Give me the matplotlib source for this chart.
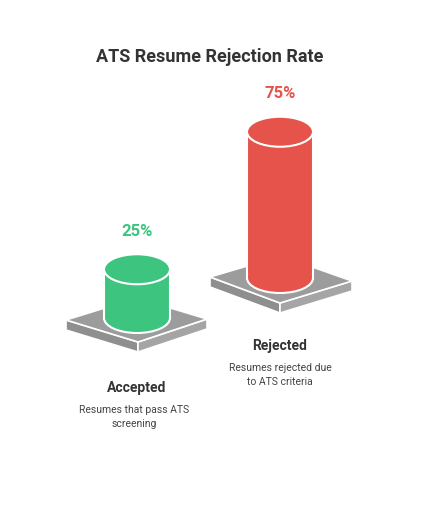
import matplotlib
matplotlib.use("Agg")
import matplotlib.pyplot as plt
from matplotlib.patches import Ellipse, Polygon, Rectangle

categories = ["Accepted", "Rejected"]
values = [25, 75]
pct_labels = ["25%", "75%"]
descriptions = ["Resumes that pass ATS\nscreening", "Resumes rejected due\nto ATS criteria"]
colors = ["#3dc47e", "#e5534b"]

fig = plt.figure(figsize=(4.39, 5.12), dpi=100)
ax = fig.add_axes([0, 0, 1, 1])
ax.set_xlim(0, 439); ax.set_ylim(512, 0); ax.axis("off")

cx = [137, 280]
base_y = [318, 278]
platforms = [dict(l=(66, 320), b=(137, 298), r=(207, 319), f=(138, 342)),
             dict(l=(210, 277), b=(281, 256), r=(352, 281), f=(280, 303))]
scale = 1.95
w, eh = 66, 30
th = 10

for i in range(2):
    p = platforms[i]
    ax.add_patch(Polygon([p["l"], p["f"], (p["f"][0], p["f"][1]+th), (p["l"][0], p["l"][1]+th)],
                         fc="#8f8f8f", ec="white", lw=1.2, zorder=1))
    ax.add_patch(Polygon([p["f"], p["r"], (p["r"][0], p["r"][1]+th), (p["f"][0], p["f"][1]+th)],
                         fc="#a5a5a5", ec="white", lw=1.2, zorder=1))
    ax.add_patch(Polygon([p["l"], p["b"], p["r"], p["f"]], fc="#9c9c9c", ec="white", lw=1.2, zorder=2))
    h = values[i] * scale
    top = base_y[i] - h
    ax.add_patch(Ellipse((cx[i], base_y[i]), w, eh, fc=colors[i], ec="white", lw=1.5, zorder=3))
    ax.add_patch(Rectangle((cx[i]-w/2, top), w, h, fc=colors[i], ec="none", zorder=4))
    ax.plot([cx[i]-w/2]*2, [top, base_y[i]], color="white", lw=1.5, zorder=5)
    ax.plot([cx[i]+w/2]*2, [top, base_y[i]], color="white", lw=1.5, zorder=5)
    ax.add_patch(Ellipse((cx[i], top), w, eh, fc=colors[i], ec="white", lw=1.5, zorder=6))
    ax.text(cx[i], top - 38, pct_labels[i], color=colors[i], fontsize=12, fontweight="bold",
            ha="center", va="center", family="Roboto")

ax.text(137, 388, categories[0], fontsize=10, fontweight="bold", color="#333333", ha="center", va="center", family="Roboto")
ax.text(134, 417, descriptions[0], fontsize=7.5, color="#444444", ha="center", va="center", family="Roboto", linespacing=1.4)
ax.text(280, 346, categories[1], fontsize=10, fontweight="bold", color="#333333", ha="center", va="center", family="Roboto")
ax.text(280, 375, descriptions[1], fontsize=7.5, color="#444444", ha="center", va="center", family="Roboto", linespacing=1.4)
ax.text(210, 57, "ATS Resume Rejection Rate", fontsize=13, fontweight="bold", color="#333333",
        ha="center", va="center", family="Roboto")

fig.savefig("out.png", dpi=100, facecolor="white")
